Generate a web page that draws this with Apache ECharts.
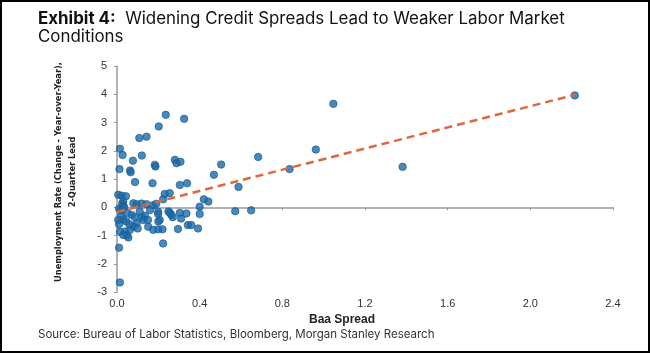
<!DOCTYPE html>
<html>
<head>
<meta charset="utf-8">
<script src="https://cdn.jsdelivr.net/npm/echarts@6.0.0/dist/echarts.min.js"></script>
<style>
  html, body { margin: 0; padding: 0; background: #fff; }
  #frame { width: 650px; height: 353px; box-sizing: border-box; border: 2px solid #000; }
  #chart { width: 646px; height: 349px; }
</style>
</head>
<body>
<div id="frame"><div id="chart"></div></div>
<script>
// Baa spread change (x) vs. unemployment rate change, 2-quarter lead (y)
const baaSpread = [
  2.215, 1.047, 0.962, 1.382, 0.835, 0.683, 0.588, 0.504, 0.572, 0.649,
  0.236, 0.325, 0.202, 0.108, 0.143, 0.014, 0.027, 0.120, 0.077, 0.012,
  0.063, 0.066, 0.183, 0.186, 0.280, 0.288, 0.307, 0.087, 0.172, 0.304,
  0.339, 0.469, 0.006, 0.023, 0.043, 0.231, 0.255, 0.223, 0.420, 0.442,
  0.400, 0.030, 0.025, 0.030, 0.079, 0.095, 0.119, 0.143, 0.175, 0.190,
  0.010, 0.020, 0.006, 0.030, 0.045, 0.071, 0.087, 0.120, 0.135, 0.127,
  0.095, 0.080, 0.039, 0.063, 0.047, 0.055, 0.151, 0.199, 0.199, 0.207,
  0.200, 0.255, 0.263, 0.270, 0.304, 0.336, 0.310, 0.343, 0.359, 0.295,
  0.392, 0.175, 0.199, 0.220, 0.223, 0.010, 0.014, 0.400, 0.014, 0.030,
  0.010, 0.020, 0.050, 0.060, 0.100, 0.035, 0.160, 0.150, 0.110, 0.249
];
const unempChange = [
  3.96, 3.66, 2.04, 1.43, 1.35, 1.78, 0.72, 1.51, -0.14, -0.11,
  3.27, 3.13, 2.86, 2.45, 2.50, 2.07, 1.85, 1.83, 1.65, 1.35,
  1.30, 1.24, 1.50, 1.44, 1.68, 1.56, 1.61, 0.89, 0.85, 0.79,
  0.85, 1.15, 0.44, 0.41, 0.39, 0.47, 0.50, 0.28, 0.28, 0.20,
  0.02, 0.20, 0.12, 0.04, 0.14, 0.11, 0.13, 0.11, 0.07, 0.12,
  -0.05, -0.12, -0.45, -0.43, -0.50, -0.27, -0.35, -0.35, -0.30, -0.45,
  -0.57, -0.68, -0.86, -0.80, -1.00, -1.07, -0.69, -0.16, -0.24, -0.45,
  -0.50, -0.19, -0.27, -0.35, -0.20, -0.22, -0.40, -0.63, -0.63, -0.77,
  -0.75, -0.80, -0.78, -0.78, -1.28, -1.43, -2.66, -0.24, -0.87, -0.98,
  -0.60, -0.30, -0.20, -0.60, -0.75, 0.00, -0.10, -0.45, -0.15, -0.15
];
// fitted trend line end points
const trendX = [0.0, 2.215];
const trendY = [-0.17, 3.98];

const xTicks = [0, 2.4, 0.4];
const yTicks = [-3, 5, 1];

const points = baaSpread.map((x, i) => [x, unempChange[i]]);
const trend = trendX.map((x, i) => [x, trendY[i]]);

const narrow = '"Liberation Sans Narrow", "DejaVu Sans Condensed", "Liberation Sans"';

const chart = echarts.init(document.getElementById('chart'));
chart.setOption({
  animation: false,
  title: [
    {
      text: '{b|Exhibit 4:}  Widening Credit Spreads Lead to Weaker Labor Market\nConditions',
      left: 31,
      top: 3,
      textStyle: {
        fontFamily: 'Inter', fontSize: 16.9, fontWeight: 'normal', color: '#111', lineHeight: 18,
        rich: { b: { fontFamily: 'Inter', fontSize: 16.9, fontWeight: 'bold', color: '#111', lineHeight: 18 } }
      }
    },
    {
      text: 'Source: Bureau of Labor Statistics, Bloomberg, Morgan Stanley Research',
      left: 31,
      top: 322,
      textStyle: { fontFamily: 'Inter', fontSize: 11.5, fontWeight: 'normal', color: '#333' }
    }
  ],
  grid: { left: 115, right: 35, top: 64, bottom: 59, containLabel: false, outerBoundsMode: 'none' },
  xAxis: {
    type: 'value',
    min: xTicks[0], max: xTicks[1], interval: xTicks[2],
    name: 'Baa Spread',
    nameLocation: 'middle',
    nameGap: 20,
    nameTextStyle: { fontFamily: 'Liberation Sans', fontSize: 12, fontWeight: 'bold', color: '#222', padding: [0, 46, 0, 0] },
    axisLine: { onZero: true, lineStyle: { color: '#999', width: 1.5 } },
    axisTick: { show: true, length: 3, lineStyle: { color: '#999' } },
    axisLabel: { margin: 6, fontFamily: 'Liberation Sans', fontSize: 11, color: '#333', formatter: v => v.toFixed(1) },
    splitLine: { show: false }
  },
  yAxis: {
    type: 'value',
    min: yTicks[0], max: yTicks[1], interval: yTicks[2],
    name: 'Unemployment Rate (Change - Year-over-Year),\n2-Quarter Lead',
    nameLocation: 'middle',
    nameGap: 37,
    nameTextStyle: { fontFamily: narrow, fontSize: 9.2, fontWeight: 'bold', color: '#222', lineHeight: 14, padding: [0, 0, 0, 14] },
    axisLine: { show: true, lineStyle: { color: '#999', width: 1.5 } },
    axisTick: { show: true, length: 3, lineStyle: { color: '#999' } },
    axisLabel: { margin: 10, fontFamily: 'Liberation Sans', fontSize: 11, color: '#333' },
    splitLine: { show: false }
  },
  series: [
    {
      type: 'scatter',
      data: points,
      symbolSize: 7.5,
      itemStyle: { color: '#1c6aa8', borderColor: '#165a92', borderWidth: 0.8 }
    },
    {
      type: 'line',
      data: trend,
      showSymbol: false,
      symbol: 'none',
      z: 3,
      lineStyle: { color: '#e0663b', width: 2.5, type: [8, 5] }
    }
  ]
});
</script>
</body>
</html>
